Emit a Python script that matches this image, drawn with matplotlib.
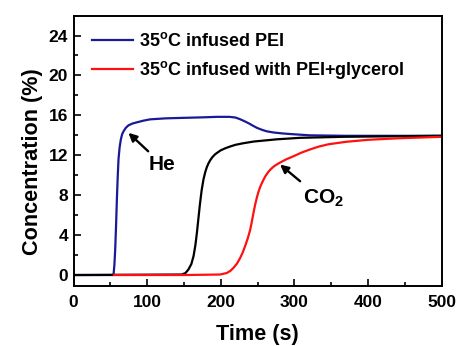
import matplotlib
matplotlib.use("Agg")
import matplotlib.pyplot as plt
from matplotlib.ticker import MultipleLocator

plt.rcParams['font.family'] = ['Liberation Sans', 'DejaVu Sans']
plt.rcParams['font.weight'] = 'bold'
plt.rcParams['mathtext.fontset'] = 'custom'
plt.rcParams['mathtext.rm'] = 'Liberation Sans:bold'
plt.rcParams['mathtext.bf'] = 'Liberation Sans:bold'
plt.rcParams['mathtext.it'] = 'Liberation Sans:bold'
plt.rcParams['mathtext.default'] = 'rm'

# He breakthrough, 35C infused PEI (blue)
he_t = [0, 54.3, 55.5, 56.6, 57.8, 58.9, 60, 61.1, 62.6, 64.3, 66, 67.9, 71, 74.6, 80,
        86, 95, 104, 125, 149, 175, 195, 212, 220, 226, 232, 238, 244, 249, 256,
        262.5, 272, 285, 300, 321, 371, 430, 500]
he_c = [0, 0, 1.0, 2.55, 5.0, 7.6, 9.8, 11.6, 12.8, 13.6, 14.1, 14.4, 14.75, 15.0, 15.18,
        15.3, 15.47, 15.6, 15.7, 15.75, 15.8, 15.85, 15.85, 15.78, 15.62, 15.42, 15.2,
        14.95, 14.75, 14.55, 14.4, 14.28, 14.18, 14.1, 14.0, 13.95, 13.95, 13.95]

# CO2 breakthrough, 35C infused PEI (black)
co2_pei_t = [0, 147, 152, 156, 160, 163, 165.5, 167.5, 169.5, 171.5, 174, 176.5, 179,
             181, 183.3, 186, 189, 192.3, 196, 200, 206, 212.7, 220, 230, 245, 262,
             276, 308, 366, 430, 500]
co2_pei_c = [0, 0.05, 0.2, 0.55, 1.1, 1.9, 3.0, 4.2, 5.6, 7.0, 8.5, 9.6, 10.35,
             10.8, 11.2, 11.55, 11.85, 12.1, 12.3, 12.5, 12.7, 12.88, 13.05, 13.2, 13.38,
             13.5, 13.6, 13.75, 13.85, 13.9, 13.95]

# CO2 breakthrough, 35C infused with PEI+glycerol (red)
co2_gly_t = [55, 150, 199, 208, 213, 217, 222, 226.2, 230, 233, 236.5, 239.8, 242,
             244.3, 246.5, 248.9, 251, 253.3, 255.7, 258, 260.5, 264.7, 268, 272,
             276, 280.5, 289, 298.6, 310, 321, 333, 346, 370, 400, 440, 500]
co2_gly_c = [0, 0, 0.05, 0.2, 0.42, 0.7, 1.15, 1.7, 2.3, 2.9, 3.65, 4.5, 5.3,
             6.2, 7.0, 7.75, 8.3, 8.8, 9.2, 9.55, 9.9, 10.35, 10.62, 10.88,
             11.08, 11.27, 11.6, 11.9, 12.28, 12.58, 12.87, 13.1, 13.35, 13.55, 13.7, 13.85]

labels = [r'35$^{o}$C infused PEI', r'35$^{o}$C infused with PEI+glycerol']

fig = plt.figure(figsize=(4.58, 3.46), dpi=100)
ax = fig.add_axes([0.1605, 0.1734, 0.804, 0.7816])

ax.plot(he_t, he_c, color='#1a1a96', lw=1.6, label=labels[0])
ax.plot(co2_pei_t, co2_pei_c, color='black', lw=1.6)
ax.plot(co2_gly_t, co2_gly_c, color='#ff1010', lw=1.6, label=labels[1])

ax.set_xlim(0, 500)
ax.set_ylim(-1.1, 26)
ax.xaxis.set_major_locator(MultipleLocator(100))
ax.xaxis.set_minor_locator(MultipleLocator(50))
ax.yaxis.set_major_locator(MultipleLocator(4))
ax.yaxis.set_minor_locator(MultipleLocator(2))
ax.tick_params(which='both', direction='in', width=1.2, labelsize=12.5)
ax.tick_params(which='major', length=5)
ax.tick_params(which='minor', length=3)
ax.tick_params(axis='x', pad=6.5)
ax.tick_params(axis='y', pad=4)
for s in ax.spines.values():
    s.set_linewidth(1.4)

ax.set_xlabel('Time (s)', fontsize=15.6, fontweight='bold')
ax.set_ylabel('Concentration (%)', fontsize=15.6, fontweight='bold')
ax.xaxis.set_label_coords(0.5, -0.14)
ax.yaxis.set_label_coords(-0.0836, 0.4595)

ax.legend(loc='upper left', bbox_to_anchor=(0.0155, 0.985), frameon=False,
          fontsize=13, handlelength=2.3, handletextpad=0.33, labelspacing=0.5,
          borderpad=0.2)

arrow_kw = dict(arrowstyle='-|>', color='black', lw=1.7, shrinkA=0, shrinkB=0,
                mutation_scale=12)
ax.annotate('', xy=(74.6, 14.25), xytext=(101.4, 12.4), arrowprops=arrow_kw)
ax.text(101.8, 10.5, 'He', fontsize=15, fontweight='bold', ha='left', va='baseline')
ax.annotate('', xy=(280.5, 11.07), xytext=(307.7, 9.4), arrowprops=arrow_kw)
ax.text(312, 7.16, r'CO$_2$', fontsize=15, fontweight='bold', ha='left', va='baseline')

fig.savefig('out.png', dpi=100)
